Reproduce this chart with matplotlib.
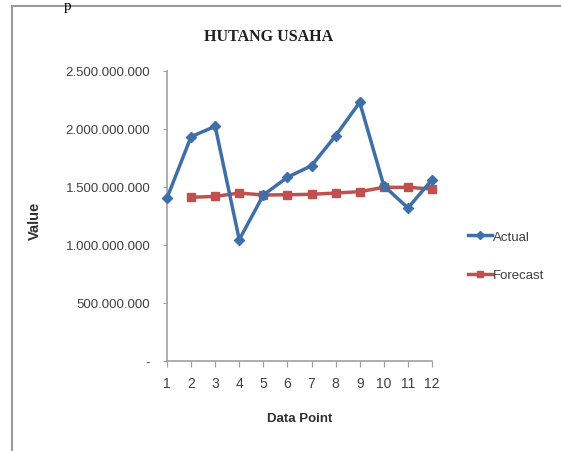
import matplotlib
matplotlib.use("Agg")
from matplotlib import pyplot as plt
from matplotlib.lines import Line2D
from matplotlib.ticker import FuncFormatter

points = [1, 2, 3, 4, 5, 6, 7, 8, 9, 10, 11, 12]
actual = [1405e6, 1934e6, 2023e6, 1046e6, 1431e6, 1584e6, 1684e6, 1942e6, 2230e6, 1511e6, 1319e6, 1563e6]
forecast_points = [2, 3, 4, 5, 6, 7, 8, 9, 10, 11, 12]
forecast = [1411e6, 1419e6, 1448e6, 1431e6, 1433e6, 1437e6, 1448e6, 1460e6, 1497e6, 1497e6, 1483e6]
yticks = [0, 500e6, 1000e6, 1500e6, 2000e6, 2500e6]

font = ["Liberation Sans Narrow", "Liberation Sans", "DejaVu Sans"]
plt.rcParams['font.family'] = font

def fmt(v, pos):
    if v == 0:
        return "-"
    return "{:,.0f}".format(v).replace(",", ".")

fig = plt.figure(figsize=(5.61, 4.52), dpi=100)

# frame of the chart box
gray = "#9a9a9a"
fig.add_artist(Line2D([12/561, 12/561], [0, 1 - 7/452], transform=fig.transFigure, color=gray, lw=1.5))
fig.add_artist(Line2D([12/561, 1], [1 - 7/452, 1 - 7/452], transform=fig.transFigure, color=gray, lw=1.5))
fig.text(64/561, 1.0, "p", family="Liberation Serif", fontsize=11, va="top", ha="left")

ax = fig.add_axes([167/561, 1 - 362/452, (432 - 167)/561, (362 - 72)/452])
ax.plot(points, actual, color="#3f6fa8", lw=2.5, marker="D", ms=5, label="Actual", zorder=3)
ax.plot(forecast_points, forecast, color="#c0504d", lw=2.5, marker="s", ms=6, label="Forecast", zorder=2)

ax.set_xlim(1, 12)
ax.set_ylim(0, 2500e6)
ax.set_xticks(points)
ax.set_yticks(yticks)
ax.yaxis.set_major_formatter(FuncFormatter(fmt))
for s in ["top", "right"]:
    ax.spines[s].set_visible(False)
for s in ["left", "bottom"]:
    ax.spines[s].set_color("#a0a0a0")
    ax.spines[s].set_linewidth(1.2)
ax.tick_params(axis="y", direction="out", length=3, color="#a0a0a0", pad=9, labelsize=9.5, labelcolor="#404040")
ax.tick_params(axis="x", direction="out", length=4, color="#a0a0a0", pad=7, labelsize=10, labelcolor="#404040")
for l in ax.lines:
    l.set_clip_on(False)

ax.set_xlabel("Data Point", fontsize=9.5, fontweight="bold", color="#303030", labelpad=16)
ax.set_ylabel("Value", fontsize=10.5, fontweight="bold", color="#303030")
ax.yaxis.set_label_coords((42 - 167)/265, (362 - 221)/290)
fig.text(269/561, 1 - 37/452, "HUTANG USAHA", family="Liberation Serif", fontweight="bold",
         fontsize=11.5, ha="center", va="center", color="#202020")

ax.legend(loc="center left", bbox_to_anchor=(456/561, 1 - 257/452), bbox_transform=fig.transFigure,
          frameon=False, fontsize=9.5, handlelength=1.8, handletextpad=0.1, labelspacing=2.0,
          markerscale=0.8, labelcolor="#404040")

fig.savefig("out.png", dpi=100)
